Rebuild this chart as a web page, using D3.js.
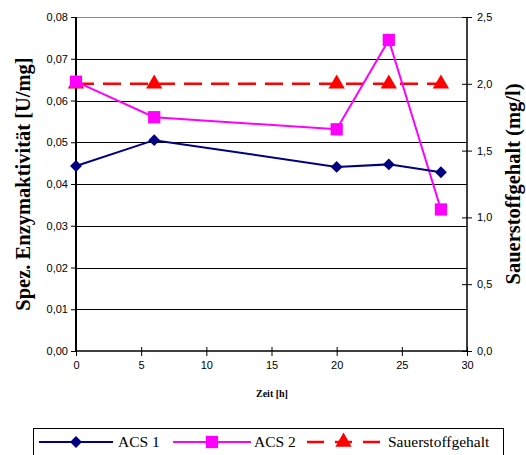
<!DOCTYPE html>
<html><head><meta charset="utf-8">
<script src="https://cdn.jsdelivr.net/npm/d3@7"></script>
<style>body{margin:0;background:#fff}svg{display:block}</style>
</head><body>
<svg id="chart" width="526" height="455"></svg>
<script>
const hours = [0, 6, 20, 24, 28];
const acs1 = [0.0443, 0.0505, 0.0441, 0.0447, 0.0428];
const acs2 = [0.0645, 0.0560, 0.0531, 0.0745, 0.0339];
const oxygen = [2.0, 2.0, 2.0, 2.0, 2.0];
const xTicks = [0, 5, 10, 15, 20, 25, 30];
const yLeftTicks = [0, 0.01, 0.02, 0.03, 0.04, 0.05, 0.06, 0.07, 0.08];
const yRightTicks = [0, 0.5, 1.0, 1.5, 2.0, 2.5];

const svg = d3.select("#chart");
const L = 76, R = 467, T = 17, B = 351;
const x = d3.scaleLinear().domain([0, 30]).range([L, R]);
const yL = d3.scaleLinear().domain([0, 0.08]).range([B, T]);
const yR = d3.scaleLinear().domain([0, 2.5]).range([B, T]);
const fmt = d3.formatLocale({decimal: ",", thousands: ".", grouping: [3], currency: ["", ""]});
const fL = fmt.format(".2f"), fR = fmt.format(".1f");

// gridlines
svg.append("g").selectAll("line").data(yLeftTicks.slice(1)).join("line")
  .attr("x1", L).attr("x2", R).attr("y1", d => Math.round(yL(d)) + 0.5).attr("y2", d => Math.round(yL(d)) + 0.5)
  .attr("stroke", d => d === 0.08 ? "#888" : "#000").attr("stroke-width", 1);

// left axis
const gl = svg.append("g").attr("transform", `translate(${L},0)`)
  .call(d3.axisLeft(yL).tickValues(yLeftTicks).tickFormat(fL).tickSize(5).tickPadding(3));
gl.select(".domain").attr("stroke-width", 2).attr("d", `M0,${T}V${B}`);
// right axis
const gr = svg.append("g").attr("transform", `translate(${R},0)`)
  .call(d3.axisRight(yR).tickValues(yRightTicks).tickFormat(fR).tickSize(5).tickPadding(5));
gr.select(".domain").attr("d", `M0,${T}V${B}`).attr("stroke-width", 1.5);
gr.selectAll(".tick line").attr("x1", -5);
// bottom axis
const gb = svg.append("g").attr("transform", `translate(0,${B})`)
  .call(d3.axisBottom(x).tickValues(xTicks).tickFormat(d3.format("d")).tickSize(5).tickPadding(5));
gb.select(".domain").attr("d", `M${L},0H${R}`).attr("stroke-width", 1.5);
gb.selectAll(".tick line").attr("y1", -4);
svg.selectAll(".tick text").attr("font-family", "Liberation Sans, Arial, sans-serif").attr("font-size", 11).attr("fill", "#000");
svg.selectAll(".tick line").attr("stroke", "#000");

// titles
svg.append("text").attr("transform", `translate(30,${(T + B) / 2}) rotate(-90)`).attr("text-anchor", "middle")
  .attr("font-family", "Liberation Serif, Times New Roman, serif").attr("font-weight", "bold").attr("font-size", 20.5)
  .text("Spez. Enzymaktivität [U/mg]");
svg.append("text").attr("transform", `translate(520,${(T + B) / 2}) rotate(-90)`).attr("text-anchor", "middle")
  .attr("font-family", "Liberation Serif, Times New Roman, serif").attr("font-weight", "bold").attr("font-size", 20.5)
  .text("Sauerstoffgehalt (mg/l)");
svg.append("text").attr("x", 272).attr("y", 397).attr("text-anchor", "middle")
  .attr("font-family", "Liberation Serif, Times New Roman, serif").attr("font-weight", "bold").attr("font-size", 10)
  .text("Zeit [h]");

const diamond = d3.symbol().type(d3.symbolDiamond2).size(90);
const square = d3.symbol().type(d3.symbolSquare).size(150);
const triangle = d3.symbol().type(d3.symbolTriangle).size(115);

function series(vals, ys, color, dash, sym, width) {
  const pts = hours.map((h, i) => [x(h), ys(vals[i])]);
  svg.append("path").attr("d", d3.line()(pts)).attr("fill", "none").attr("stroke", color)
    .attr("stroke-width", width).attr("stroke-dasharray", dash);
  svg.append("g").selectAll("path").data(pts).join("path")
    .attr("transform", d => `translate(${d[0]},${d[1]})`).attr("d", sym).attr("fill", color);
}
series(oxygen, yR, "#ff0000", "18,9", triangle, 2.5);
series(acs2, yL, "#ff00ff", null, square, 2);
series(acs1, yL, "#000080", null, diamond, 2);

// legend
const lg = svg.append("g");
lg.append("rect").attr("x", 33.5).attr("y", 428.5).attr("width", 470).attr("height", 30).attr("fill", "#fff").attr("stroke", "#000");
const ly = 442;
const items = [
  {x1: 39, x2: 113, tx: 118, color: "#000080", dash: null, sym: diamond, w: 2, label: "ACS 1"},
  {x1: 173, x2: 251, tx: 254, color: "#ff00ff", dash: null, sym: square, w: 2, label: "ACS 2"},
  {x1: 307, x2: 380, tx: 388, color: "#ff0000", dash: "17,11", sym: triangle, w: 2.5, label: "Sauerstoffgehalt"}
];
items.forEach(it => {
  lg.append("line").attr("x1", it.x1).attr("x2", it.x2).attr("y1", ly).attr("y2", ly)
    .attr("stroke", it.color).attr("stroke-width", it.w).attr("stroke-dasharray", it.dash);
  lg.append("path").attr("transform", `translate(${(it.x1 + it.x2) / 2},${ly})`).attr("d", it.sym).attr("fill", it.color);
  lg.append("text").attr("x", it.tx).attr("y", ly + 5).attr("font-family", "Liberation Serif, Times New Roman, serif")
    .attr("font-size", 15.5).text(it.label);
});
</script>
</body></html>
